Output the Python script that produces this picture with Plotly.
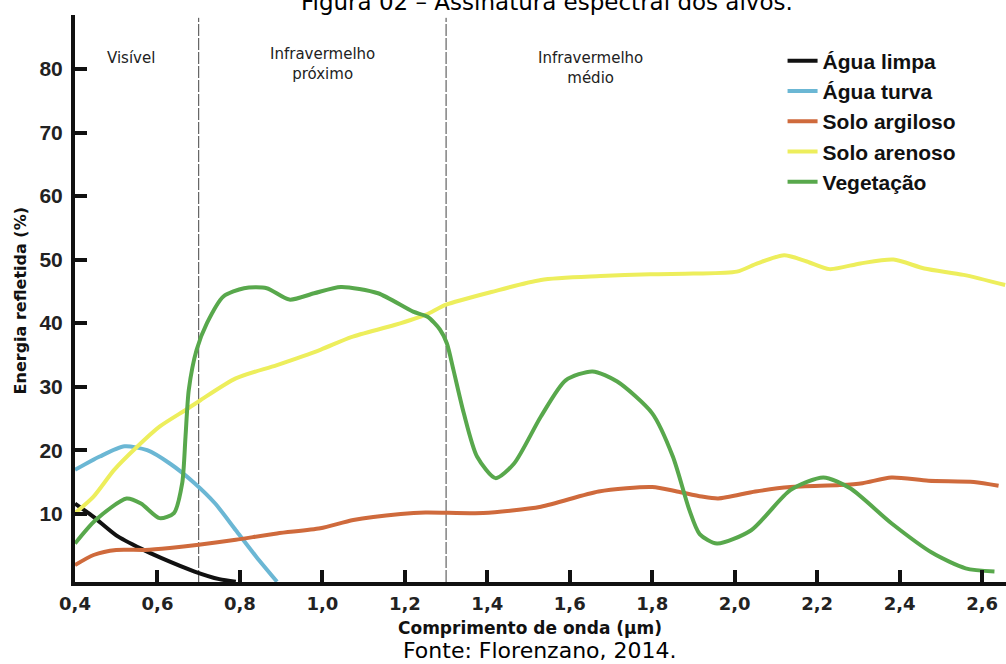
import plotly.graph_objects as go

# ---- data ----
agua_limpa_x = [0.40, 0.445, 0.50, 0.56, 0.61, 0.69, 0.75, 0.79]
agua_limpa_y = [11.6, 9.5, 6.6, 4.5, 3.0, 0.9, -0.3, -0.7]

agua_turva_x = [0.40, 0.46, 0.52, 0.575, 0.63, 0.69, 0.74, 0.79, 0.84, 0.89]
agua_turva_y = [16.9, 19.0, 20.6, 20.0, 17.9, 14.8, 11.6, 7.4, 3.2, -0.7]

solo_argiloso_x = [0.40, 0.445, 0.50, 0.57, 0.63, 0.70, 0.79, 0.89, 0.995, 1.075, 1.19, 1.25,
                   1.39, 1.53, 1.67, 1.80, 1.86, 1.92, 1.96, 2.05, 2.135, 2.255, 2.31, 2.38,
                   2.47, 2.58, 2.64]
solo_argiloso_y = [1.9, 3.5, 4.3, 4.3, 4.6, 5.1, 5.9, 6.9, 7.7, 9.0, 9.95, 10.2,
                   10.1, 11.1, 13.5, 14.2, 13.5, 12.7, 12.4, 13.5, 14.2, 14.5, 14.8, 15.7,
                   15.2, 15.0, 14.4]

solo_arenoso_x = [0.40, 0.445, 0.495, 0.55, 0.605, 0.67, 0.705, 0.79, 0.89, 0.995, 1.07, 1.175,
                  1.25, 1.30, 1.41, 1.53, 1.675, 1.795, 1.90, 2.005, 2.055, 2.12, 2.175, 2.23,
                  2.305, 2.385, 2.46, 2.555, 2.656]
solo_arenoso_y = [10.1, 12.7, 16.9, 20.5, 23.7, 26.4, 27.9, 31.3, 33.4, 35.8, 37.8, 39.7,
                  41.3, 42.9, 44.9, 46.8, 47.4, 47.7, 47.8, 48.1, 49.4, 50.7, 49.7, 48.5,
                  49.4, 50.0, 48.6, 47.6, 46.0]

vegetacao_x = [0.40, 0.45, 0.525, 0.56, 0.605, 0.64, 0.66, 0.668, 0.676, 0.695, 0.72, 0.76,
               0.81, 0.865, 0.92, 0.98, 1.045, 1.135, 1.22, 1.255, 1.285, 1.302, 1.318, 1.343,
               1.375, 1.42, 1.465, 1.53, 1.59, 1.655, 1.715, 1.80, 1.85, 1.89, 1.915, 1.957,
               2.04, 2.135, 2.215, 2.28, 2.38, 2.48, 2.56, 2.63]
vegetacao_y = [5.3, 9.0, 12.4, 11.6, 9.3, 10.1, 14.8, 22.1, 29.5, 35.8, 40.0, 44.2,
               45.5, 45.5, 43.7, 44.7, 45.7, 44.7, 41.8, 41.0, 39.0, 36.8, 32.6, 25.8,
               19.0, 15.6, 17.9, 25.3, 31.0, 32.4, 30.8, 25.8, 19.0, 10.6, 6.8, 5.3,
               7.4, 13.7, 15.7, 14.0, 8.5, 3.8, 1.4, 0.9]

series_names = ["Água limpa", "Água turva", "Solo argiloso", "Solo arenoso", "Vegetação"]
series_colors = ["#111111", "#6BB7D4", "#CF6A3C", "#EDEE5C", "#58A84C"]

x_tick_vals = [0.4, 0.6, 0.8, 1.0, 1.2, 1.4, 1.6, 1.8, 2.0, 2.2, 2.4, 2.6]
x_tick_text = ["0,4", "0,6", "0,8", "1,0", "1,2", "1,4", "1,6", "1,8", "2,0", "2,2", "2,4", "2,6"]
y_tick_vals = [10, 20, 30, 40, 50, 60, 70, 80]

region_bounds = [0.7, 1.3]
region_labels = ["Visível", "Infravermelho<br>próximo", "Infravermelho<br>médio"]
region_label_x = [0.535, 1.0, 1.65]
region_label_y = [0.924, 0.913, 0.907]

title_text = "Figura 02 – Assinatura espectral dos alvos."
source_text = "Fonte: Florenzano, 2014."
x_title = "Comprimento de onda (µm)"
y_title = "Energia refletida (%)"

# ---- figure ----
fig = go.Figure()
xs = [agua_limpa_x, agua_turva_x, solo_argiloso_x, solo_arenoso_x, vegetacao_x]
ys = [agua_limpa_y, agua_turva_y, solo_argiloso_y, solo_arenoso_y, vegetacao_y]
for name, color, x, y in zip(series_names, series_colors, xs, ys):
    fig.add_trace(go.Scatter(x=x, y=y, mode="lines", name=name,
                             line=dict(color=color, width=4, shape="spline", smoothing=0.7)))

for b in region_bounds:
    fig.add_shape(type="line", xref="x", yref="paper", x0=b, x1=b, y0=0, y1=0.995,
                  line=dict(color="#444444", width=1, dash="12px,2px"), layer="below")

for lab, lx, ly in zip(region_labels, region_label_x, region_label_y):
    fig.add_annotation(x=lx, y=ly, xref="x", yref="paper", text=lab, showarrow=False,
                       font=dict(family="DejaVu Sans", size=15, color="#222"),
                       yanchor="middle", align="center")

fig.add_annotation(x=0.507, y=1.0235, xref="paper", yref="paper", text=title_text,
                   showarrow=False, font=dict(family="DejaVu Sans", size=23, color="#000"),
                   yanchor="middle")
fig.add_annotation(x=0.4995, y=-0.1215, xref="paper", yref="paper", text=source_text,
                   showarrow=False, font=dict(family="DejaVu Sans", size=22, color="#000"),
                   yanchor="middle")
fig.add_annotation(x=0.489, y=-0.0811, xref="paper", yref="paper",
                   text=x_title, showarrow=False,
                   font=dict(family="DejaVu Sans", size=17, color="#111", weight="bold"),
                   yanchor="middle")
fig.add_annotation(x=-0.059, y=0.495, xref="paper", yref="paper",
                   text=y_title, showarrow=False, textangle=-90,
                   font=dict(family="DejaVu Sans", size=16, color="#111", weight="bold"),
                   xanchor="center", yanchor="middle")

fig.update_layout(
    width=1006, height=664,
    margin=dict(l=75, r=0, t=15, b=82),
    paper_bgcolor="white", plot_bgcolor="white",
    showlegend=True,
    legend=dict(x=0.76, y=0.955, xanchor="left", yanchor="top",
                font=dict(family="Liberation Sans, Arial", size=21, color="#111", weight="bold"),
                bgcolor="rgba(255,255,255,0)"),
    xaxis=dict(range=[0.4, 2.658], tickmode="array", tickvals=x_tick_vals, ticktext=x_tick_text,
               showgrid=False, zeroline=False, showline=True, linecolor="#111", linewidth=4,
               ticks="inside", ticklen=12, tickwidth=4, tickcolor="#111",
               tickfont=dict(family="DejaVu Sans", size=18, color="#222", weight="bold"),
               ticklabelstandoff=2),
    yaxis=dict(range=[-0.75, 88.5], tickmode="array", tickvals=y_tick_vals,
               showgrid=False, zeroline=False, showline=True, linecolor="#111", linewidth=4,
               ticks="inside", ticklen=12, tickwidth=4, tickcolor="#111",
               tickfont=dict(family="Liberation Sans, Arial", size=21, color="#222", weight="bold"),
               ticklabelstandoff=4),
)

fig.write_html("out.html")
